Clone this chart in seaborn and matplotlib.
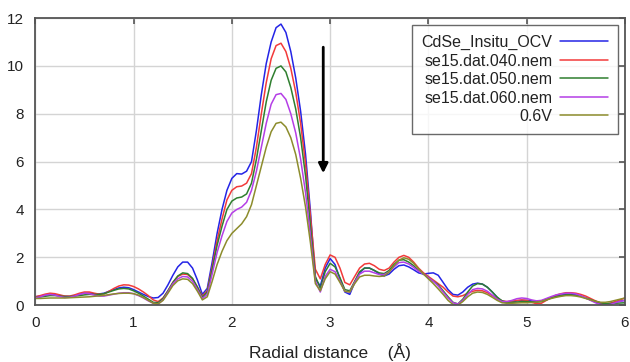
import numpy as np
import pandas as pd
import matplotlib
matplotlib.use("Agg")
import matplotlib.pyplot as plt
import seaborn as sns

# radial distance grid (0 .. 6 in steps of 0.05)
r = np.round(np.arange(0, 6.001, 0.05), 2)

ocv = [0.35, 0.38, 0.42, 0.45, 0.43, 0.40, 0.37, 0.36, 0.40, 0.45,
       0.50, 0.50, 0.47, 0.47, 0.50, 0.58, 0.65, 0.72, 0.75, 0.73,
       0.65, 0.55, 0.45, 0.36, 0.30, 0.32, 0.50, 0.85, 1.25, 1.60,
       1.80, 1.80, 1.55, 1.05, 0.45, 0.70, 1.80, 3.00, 4.00, 4.80,
       5.30, 5.50, 5.48, 5.60, 6.00, 7.30, 8.80, 10.1, 11.0, 11.6,
       11.75, 11.4, 10.6, 9.50, 8.10, 6.30, 3.90, 1.10, 0.80, 1.55,
       1.95, 1.70, 1.10, 0.55, 0.45, 0.95, 1.35, 1.55, 1.55, 1.45,
       1.30, 1.22, 1.30, 1.50, 1.65, 1.68, 1.60, 1.48, 1.35, 1.30,
       1.33, 1.35, 1.25, 0.95, 0.65, 0.45, 0.42, 0.55, 0.75, 0.88,
       0.92, 0.88, 0.75, 0.55, 0.33, 0.15, 0.10, 0.12, 0.18, 0.20,
       0.20, 0.18, 0.15, 0.18, 0.25, 0.32, 0.38, 0.42, 0.45, 0.45,
       0.43, 0.38, 0.30, 0.22, 0.13, 0.07, 0.05, 0.07, 0.12, 0.17,
       0.20]

nem040 = [0.35, 0.40, 0.46, 0.50, 0.48, 0.43, 0.38, 0.38, 0.43, 0.50,
          0.55, 0.55, 0.50, 0.46, 0.47, 0.58, 0.70, 0.80, 0.85, 0.84,
          0.78, 0.68, 0.55, 0.40, 0.22, 0.15, 0.30, 0.60, 0.95, 1.20,
          1.30, 1.28, 1.10, 0.75, 0.38, 0.60, 1.60, 2.70, 3.60, 4.40,
          4.80, 4.95, 4.98, 5.10, 5.50, 6.60, 8.00, 9.30, 10.3, 10.85,
          10.95, 10.6, 9.90, 8.90, 7.60, 5.90, 3.70, 1.50, 1.10, 1.70,
          2.10, 2.00, 1.55, 0.95, 0.85, 1.20, 1.55, 1.72, 1.75, 1.65,
          1.50, 1.45, 1.55, 1.80, 2.00, 2.08, 2.00, 1.80, 1.55, 1.35,
          1.20, 1.05, 0.90, 0.75, 0.55, 0.38, 0.35, 0.40, 0.50, 0.58,
          0.62, 0.60, 0.52, 0.40, 0.28, 0.18, 0.15, 0.17, 0.20, 0.22,
          0.20, 0.12, 0.06, 0.08, 0.20, 0.32, 0.42, 0.48, 0.52, 0.52,
          0.50, 0.45, 0.38, 0.28, 0.18, 0.10, 0.05, 0.08, 0.15, 0.22,
          0.30]

nem050 = [0.32, 0.34, 0.37, 0.40, 0.40, 0.38, 0.36, 0.36, 0.38, 0.40,
          0.43, 0.45, 0.45, 0.45, 0.48, 0.55, 0.62, 0.68, 0.70, 0.68,
          0.60, 0.50, 0.38, 0.25, 0.12, 0.10, 0.28, 0.60, 0.95, 1.22,
          1.35, 1.32, 1.12, 0.75, 0.33, 0.55, 1.50, 2.50, 3.30, 4.00,
          4.35, 4.48, 4.52, 4.65, 5.10, 6.10, 7.30, 8.50, 9.40, 9.90,
          10.0, 9.75, 9.10, 8.20, 7.00, 5.40, 3.30, 1.20, 0.70, 1.40,
          1.75, 1.60, 1.15, 0.65, 0.60, 1.00, 1.40, 1.55, 1.55, 1.45,
          1.35, 1.32, 1.45, 1.70, 1.88, 1.90, 1.80, 1.65, 1.45, 1.30,
          1.15, 1.00, 0.85, 0.60, 0.35, 0.12, 0.05, 0.25, 0.55, 0.80,
          0.90, 0.88, 0.75, 0.55, 0.33, 0.18, 0.12, 0.12, 0.13, 0.15,
          0.15, 0.14, 0.13, 0.15, 0.22, 0.30, 0.36, 0.40, 0.43, 0.43,
          0.41, 0.37, 0.30, 0.23, 0.16, 0.10, 0.07, 0.07, 0.08, 0.09,
          0.10]

nem060 = [0.30, 0.35, 0.42, 0.45, 0.42, 0.36, 0.32, 0.33, 0.38, 0.45,
          0.50, 0.48, 0.42, 0.38, 0.38, 0.42, 0.46, 0.50, 0.52, 0.52,
          0.48, 0.40, 0.30, 0.18, 0.08, 0.05, 0.22, 0.55, 0.90, 1.10,
          1.20, 1.18, 1.00, 0.65, 0.28, 0.45, 1.30, 2.20, 2.90, 3.50,
          3.85, 4.00, 4.10, 4.30, 4.80, 5.60, 6.60, 7.60, 8.40, 8.80,
          8.85, 8.60, 8.00, 7.20, 6.10, 4.70, 2.90, 1.00, 0.55, 1.20,
          1.50, 1.40, 1.00, 0.58, 0.55, 0.95, 1.30, 1.42, 1.42, 1.35,
          1.28, 1.28, 1.38, 1.60, 1.78, 1.80, 1.72, 1.58, 1.42, 1.30,
          1.15, 1.00, 0.80, 0.55, 0.30, 0.10, 0.05, 0.20, 0.45, 0.65,
          0.70, 0.68, 0.58, 0.42, 0.25, 0.15, 0.15, 0.20, 0.27, 0.30,
          0.28, 0.22, 0.18, 0.20, 0.28, 0.36, 0.43, 0.47, 0.50, 0.50,
          0.47, 0.40, 0.30, 0.20, 0.10, 0.03, 0.00, 0.03, 0.10, 0.16,
          0.20]

v06 = [0.28, 0.28, 0.29, 0.30, 0.30, 0.30, 0.30, 0.31, 0.32, 0.33,
       0.34, 0.35, 0.37, 0.39, 0.41, 0.44, 0.47, 0.49, 0.50, 0.50,
       0.48, 0.42, 0.32, 0.20, 0.08, 0.05, 0.20, 0.50, 0.82, 1.02,
       1.10, 1.08, 0.90, 0.58, 0.22, 0.35, 1.00, 1.70, 2.25, 2.70,
       3.00, 3.20, 3.40, 3.70, 4.20, 5.00, 5.80, 6.60, 7.25, 7.60,
       7.65, 7.45, 7.00, 6.30, 5.30, 4.10, 2.60, 0.90, 0.60, 1.10,
       1.40, 1.30, 0.95, 0.58, 0.55, 0.90, 1.18, 1.25, 1.25, 1.22,
       1.20, 1.22, 1.38, 1.65, 1.88, 1.98, 1.92, 1.75, 1.52, 1.30,
       1.10, 0.90, 0.68, 0.45, 0.20, 0.03, 0.00, 0.15, 0.35, 0.50,
       0.55, 0.53, 0.45, 0.33, 0.20, 0.10, 0.08, 0.08, 0.09, 0.10,
       0.10, 0.11, 0.13, 0.16, 0.22, 0.28, 0.33, 0.37, 0.40, 0.40,
       0.38, 0.34, 0.28, 0.22, 0.16, 0.12, 0.12, 0.15, 0.20, 0.25,
       0.30]

labels = ["CdSe_Insitu_OCV", "se15.dat.040.nem", "se15.dat.050.nem",
          "se15.dat.060.nem", "0.6V"]
colors = ["#2424e6", "#f23a3a", "#2f7f2f", "#b43ee6", "#8c8c2c"]

frames = []
for name, vals in zip(labels, [ocv, nem040, nem050, nem060, v06]):
    frames.append(pd.DataFrame({"r": r, "ft": vals, "series": name}))
df = pd.concat(frames, ignore_index=True)

sns.set_theme(style="white")
plt.rcParams["font.family"] = ["Liberation Sans", "DejaVu Sans"]

fig = plt.figure(figsize=(6.3, 3.62), dpi=100)
ax = fig.add_axes([0.056, 0.157, 0.936, 0.793])

sns.lineplot(data=df, x="r", y="ft", hue="series", palette=colors,
             hue_order=labels, sort=False, linewidth=1.1, ax=ax)

ax.set_xlim(0, 6)
ax.set_ylim(0, 12)
ax.set_xticks(range(0, 7))
ax.set_yticks(range(0, 13, 2))
ax.grid(True, color="#d4d4d4", linewidth=1)
ax.set_axisbelow(True)
ax.tick_params(direction="in", length=4, width=1.2, color="#555555",
               labelsize=11, labelcolor="#222222", top=True, right=True,
               labeltop=False, labelright=False, pad=8)
for s in ax.spines.values():
    s.set_color("#555555")
    s.set_linewidth(1.3)
ax.set_xlabel("Radial distance    (Å)", fontsize=12.5, labelpad=9, color="#222222")
ax.set_ylabel("")

ax.annotate("", xy=(2.93, 5.4), xytext=(2.93, 10.9),
            arrowprops=dict(arrowstyle="-|>", color="black", lw=2,
                            mutation_scale=14))

h, l = ax.get_legend_handles_labels()
leg = ax.legend(h, l, loc="upper right", markerfirst=False, fontsize=11.5,
                frameon=True, fancybox=False, borderaxespad=0.45,
                handlelength=3.0, labelspacing=0.22, handletextpad=0.5,
                borderpad=0.6)
leg.get_frame().set_edgecolor("#444444")
leg.get_frame().set_linewidth(1.0)
for t in leg.get_texts():
    t.set_color("#222222")
leg._legend_box.align = "right"

fig.savefig("out.png", dpi=100)
